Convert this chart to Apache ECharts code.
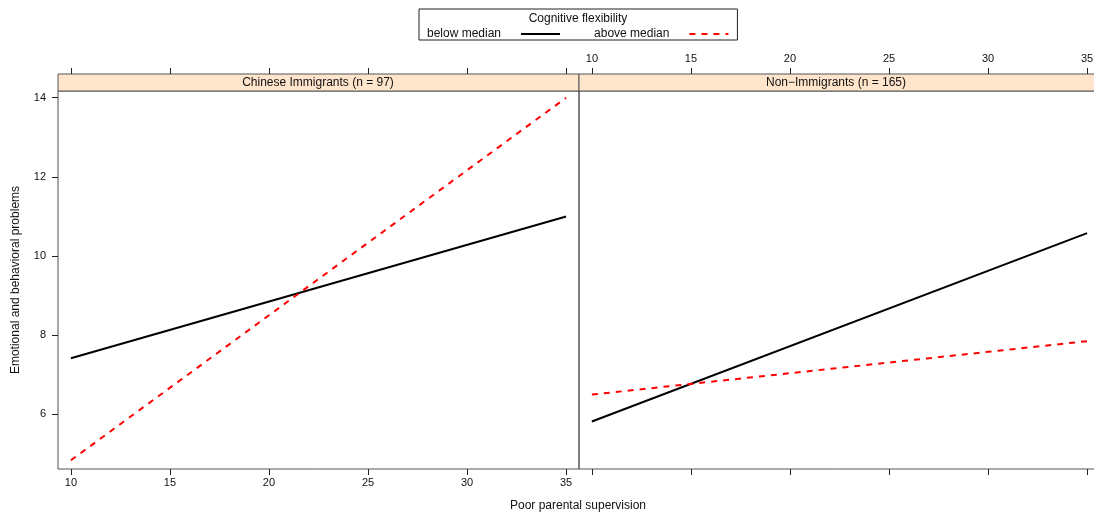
<!DOCTYPE html>
<html>
<head>
<meta charset="utf-8">
<script src="https://cdn.jsdelivr.net/npm/echarts@6/dist/echarts.min.js"></script>
<style>
  html, body { margin: 0; padding: 0; background: #fff; overflow: hidden; }
  #chartBox { width: 1104px; height: 514px; }
</style>
</head>
<body>
<div id="chartBox"></div>
<script>
// fitted lines: value at x = 10 and at x = 35
const xEnds = [10, 35]
const chineseBelow = [7.42, 11.0]
const chineseAbove = [4.84, 14.0]
const nonBelow = [5.82, 10.58]
const nonAbove = [6.5, 7.85]

const panelNames = ['Chinese Immigrants (n = 97)', 'Non\u2212Immigrants (n = 165)']
const groupNames = ['below median', 'above median']
const xTicks = [10, 15, 20, 25, 30, 35]
const yTicks = [6, 8, 10, 12, 14]

const font = 'Liberation Sans, Arial, sans-serif'
const frame = '#555'

function pairs(vals) {
  return xEnds.map((x, i) => [x, vals[i]])
}

function xAxis(gridIndex, position, withLabels) {
  return {
    type: 'value',
    gridIndex: gridIndex,
    position: position,
    offset: position === 'top' ? 17 : 0,
    min: 9.35,
    max: 35.65,
    axisLine: { show: false },
    splitLine: { show: false },
    axisTick: {
      show: true, length: 6, customValues: xTicks,
      lineStyle: { color: '#222' }
    },
    axisLabel: {
      show: withLabels, customValues: xTicks,
      margin: position === 'top' ? 10 : 8,
      color: '#111', fontFamily: font, fontSize: 11
    }
  }
}

function yAxis(gridIndex, show) {
  return {
    type: 'value',
    gridIndex: gridIndex,
    min: 4.62,
    max: 14.17,
    show: show,
    name: show ? 'Emotional and behavioral problems' : '',
    nameLocation: 'middle',
    nameGap: 36,
    nameTextStyle: { fontFamily: font, fontSize: 12, color: '#111' },
    axisLine: { show: false },
    splitLine: { show: false },
    axisTick: {
      show: true, length: 6, customValues: yTicks,
      lineStyle: { color: '#222' }
    },
    axisLabel: {
      customValues: yTicks, margin: 12,
      color: '#111', fontFamily: font, fontSize: 11
    }
  }
}

function lineSeries(name, axisIdx, vals, dashed) {
  return {
    name: name,
    type: 'line',
    xAxisIndex: axisIdx,
    yAxisIndex: axisIdx === 0 ? 0 : 1,
    data: pairs(vals),
    symbol: 'none',
    silent: true,
    lineStyle: {
      color: dashed ? '#ff0000' : '#000',
      width: 2,
      type: dashed ? [6, 6] : 'solid'
    },
    itemStyle: { color: dashed ? '#ff0000' : '#000' }
  }
}

const chart = echarts.init(document.getElementById('chartBox'))
chart.setOption({
  animation: false,
  textStyle: { fontFamily: font },
  legend: {
    data: groupNames,
    left: 419,
    top: 9,
    align: 'right',
    itemWidth: 39,
    itemHeight: 13,
    itemGap: 33,
    padding: [19, 8, 0, 8],
    borderColor: '#222',
    borderWidth: 1,
    itemStyle: { opacity: 0 },
    textStyle: { fontFamily: font, fontSize: 12, color: '#111', padding: [0, 15, 0, 0] }
  },
  grid: [
    { left: 58, top: 91, width: 521, height: 378, show: true, borderColor: frame, borderWidth: 1, backgroundColor: 'transparent' },
    { left: 579, top: 91, width: 521, height: 378, show: true, borderColor: frame, borderWidth: 1, backgroundColor: 'transparent' }
  ],
  xAxis: [
    xAxis(0, 'bottom', true),
    xAxis(1, 'bottom', false),
    xAxis(0, 'top', false),
    xAxis(1, 'top', true)
  ],
  yAxis: [yAxis(0, true), yAxis(1, false)],
  graphic: [
    {
      type: 'text', x: 578, y: 19,
      style: { text: 'Cognitive flexibility', font: '12px ' + font, fill: '#111', textAlign: 'center', textVerticalAlign: 'middle' }
    },
    {
      type: 'rect', shape: { x: 58, y: 74, width: 521, height: 17 },
      style: { fill: '#ffe5cc', stroke: frame, lineWidth: 1 }
    },
    {
      type: 'rect', shape: { x: 579, y: 74, width: 521, height: 17 },
      style: { fill: '#ffe5cc', stroke: frame, lineWidth: 1 }
    },
    {
      type: 'text', x: 318, y: 82.5,
      style: { text: panelNames[0], font: '12px ' + font, fill: '#111', textAlign: 'center', textVerticalAlign: 'middle' }
    },
    {
      type: 'text', x: 836, y: 82.5,
      style: { text: panelNames[1], font: '12px ' + font, fill: '#111', textAlign: 'center', textVerticalAlign: 'middle' }
    },
    {
      type: 'text', x: 578, y: 506,
      style: { text: 'Poor parental supervision', font: '12px ' + font, fill: '#111', textAlign: 'center', textVerticalAlign: 'middle' }
    }
  ],
  series: [
    lineSeries(groupNames[0], 0, chineseBelow, false),
    lineSeries(groupNames[1], 0, chineseAbove, true),
    lineSeries(groupNames[0], 1, nonBelow, false),
    lineSeries(groupNames[1], 1, nonAbove, true)
  ]
})
window.addEventListener('resize', () => {
  chart.resize()
})
</script>
</body>
</html>
